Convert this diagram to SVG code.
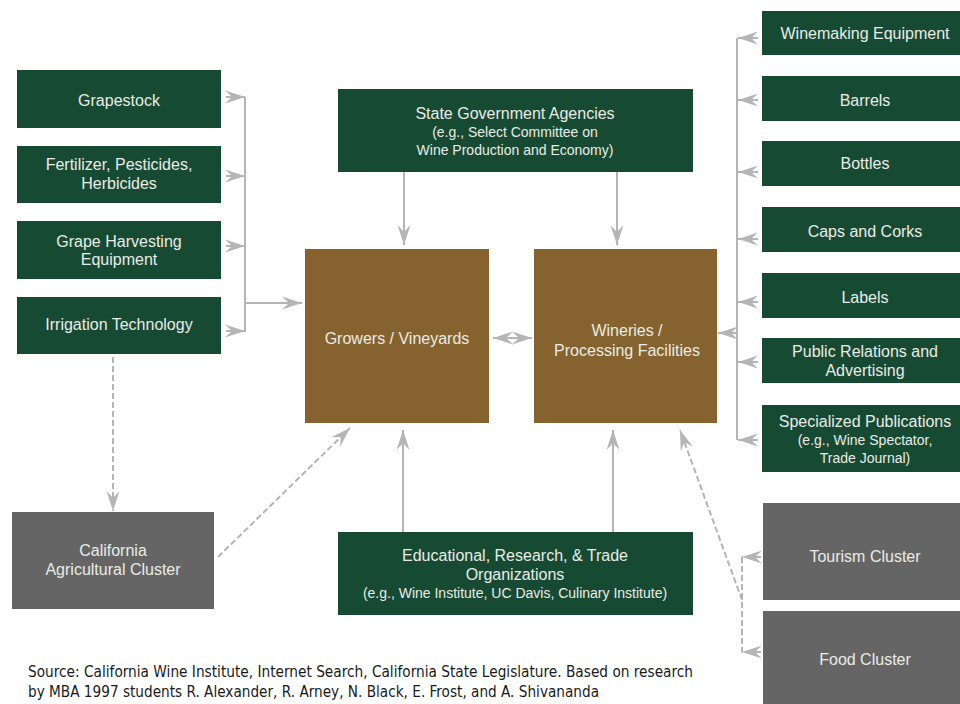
<svg xmlns="http://www.w3.org/2000/svg" width="960" height="704" viewBox="0 0 960 704">
  <style>
    .g { fill: #174a33; }
    .b { fill: #86632e; }
    .c { fill: #656565; }
    .t { font-family: "Liberation Sans", Arial, sans-serif; font-size: 16px; fill: #e9ece6; text-anchor: middle; }
    .s { font-size: 14px; }
    .ln { stroke: #b5b5b5; stroke-width: 2; fill: none; }
    .d { stroke-dasharray: 6 3; }
    .src { font-family: "Liberation Sans Narrow", "DejaVu Sans Condensed", "Liberation Sans", sans-serif; font-size: 15px; fill: #1a1a1a; }
  </style>
  <defs>
    <marker id="ah" markerUnits="userSpaceOnUse" viewBox="-22 -8 24 16" refX="0" refY="0" markerWidth="24" markerHeight="16" orient="auto">
      <path d="M0,0 L-20,-6.5 L-13,0 L-20,6.5 Z" fill="#b5b5b5"/>
    </marker>
    <marker id="as" markerUnits="userSpaceOnUse" viewBox="-22 -8 24 16" refX="0" refY="0" markerWidth="24" markerHeight="16" orient="auto-start-reverse">
      <path d="M0,0 L-20,-6.5 L-13,0 L-20,6.5 Z" fill="#b5b5b5"/>
    </marker>
  </defs>
  <rect width="960" height="704" fill="#ffffff"/>

  <!-- connectors -->
  <g id="connectors">
    <!-- input suppliers bracket into growers -->
    <line class="ln" x1="245" y1="97" x2="245" y2="332"/>
    <line class="ln" x1="226" y1="97" x2="245" y2="97" marker-end="url(#ah)"/>
    <line class="ln" x1="226" y1="176" x2="245" y2="176" marker-end="url(#ah)"/>
    <line class="ln" x1="226" y1="246" x2="245" y2="246" marker-end="url(#ah)"/>
    <line class="ln" x1="226" y1="331" x2="245" y2="331" marker-end="url(#ah)"/>
    <line class="ln" x1="245" y1="303" x2="302" y2="303" marker-end="url(#ah)"/>

    <!-- state government down -->
    <line class="ln" x1="404" y1="172" x2="404" y2="245" marker-end="url(#ah)"/>
    <line class="ln" x1="617" y1="172" x2="617" y2="245" marker-end="url(#ah)"/>

    <!-- growers <-> wineries -->
    <line class="ln" x1="493" y1="338" x2="532" y2="338" marker-start="url(#as)" marker-end="url(#ah)"/>

    <!-- education up -->
    <line class="ln" x1="403" y1="532" x2="403" y2="430" marker-end="url(#ah)"/>
    <line class="ln" x1="613" y1="532" x2="613" y2="430" marker-end="url(#ah)"/>

    <!-- winery suppliers bracket -->
    <line class="ln" x1="737" y1="38" x2="737" y2="440"/>
    <line class="ln" x1="758" y1="38" x2="738" y2="38" marker-end="url(#ah)"/>
    <line class="ln" x1="758" y1="100" x2="738" y2="100" marker-end="url(#ah)"/>
    <line class="ln" x1="758" y1="172" x2="738" y2="172" marker-end="url(#ah)"/>
    <line class="ln" x1="758" y1="239" x2="738" y2="239" marker-end="url(#ah)"/>
    <line class="ln" x1="758" y1="302" x2="738" y2="302" marker-end="url(#ah)"/>
    <line class="ln" x1="758" y1="362" x2="738" y2="362" marker-end="url(#ah)"/>
    <line class="ln" x1="758" y1="440" x2="738" y2="440" marker-end="url(#ah)"/>
    <line class="ln" x1="737" y1="333" x2="718" y2="333" marker-end="url(#ah)"/>

    <!-- related clusters (dashed) -->
    <line class="ln d" x1="113" y1="357" x2="113" y2="511" marker-end="url(#ah)"/>
    <line class="ln d" x1="218" y1="557" x2="350" y2="428" marker-end="url(#ah)"/>
    <line class="ln d" x1="742" y1="557" x2="742" y2="652"/>
    <line class="ln d" x1="761" y1="557" x2="742" y2="557" marker-end="url(#ah)"/>
    <line class="ln d" x1="761" y1="652" x2="742" y2="652" marker-end="url(#ah)"/>
    <line class="ln d" x1="742" y1="600" x2="680" y2="430" marker-end="url(#ah)"/>
  </g>

  <!-- left: grape growing inputs -->
  <g id="grapestock">
    <rect class="g" x="17" y="70" width="204" height="58"/>
    <text class="t" x="119" y="106">Grapestock</text>
  </g>
  <g id="fertilizer">
    <rect class="g" x="17" y="146" width="204" height="57"/>
    <text class="t" x="119" y="170">Fertilizer, Pesticides,</text>
    <text class="t" x="119" y="189">Herbicides</text>
  </g>
  <g id="harvesting">
    <rect class="g" x="17" y="221" width="204" height="58"/>
    <text class="t" x="119" y="247">Grape Harvesting</text>
    <text class="t" x="119" y="265">Equipment</text>
  </g>
  <g id="irrigation">
    <rect class="g" x="17" y="297" width="204" height="57"/>
    <text class="t" x="119" y="330">Irrigation Technology</text>
  </g>

  <!-- centre -->
  <g id="state-government">
    <rect class="g" x="338" y="89" width="355" height="83"/>
    <text class="t" x="515" y="119">State Government Agencies</text>
    <text class="t s" x="515" y="137">(e.g., Select Committee on</text>
    <text class="t s" x="515" y="155">Wine Production and Economy)</text>
  </g>
  <g id="growers">
    <rect class="b" x="305" y="249" width="184" height="174"/>
    <text class="t" x="397" y="344">Growers / Vineyards</text>
  </g>
  <g id="wineries">
    <rect class="b" x="534" y="249" width="183" height="174"/>
    <text class="t" x="627" y="336">Wineries /</text>
    <text class="t" x="627" y="356">Processing Facilities</text>
  </g>
  <g id="education">
    <rect class="g" x="338" y="532" width="355" height="83"/>
    <text class="t" x="515" y="561">Educational, Research, &amp; Trade</text>
    <text class="t" x="515" y="580">Organizations</text>
    <text class="t s" x="515" y="598">(e.g., Wine Institute, UC Davis, Culinary Institute)</text>
  </g>
  <g id="agricultural-cluster">
    <rect class="c" x="12" y="512" width="202" height="97"/>
    <text class="t" x="113" y="556">California</text>
    <text class="t" x="113" y="575">Agricultural Cluster</text>
  </g>

  <!-- right: winery inputs -->
  <g id="winemaking-equipment">
    <rect class="g" x="762" y="11" width="206" height="44"/>
    <text class="t" x="865" y="39">Winemaking Equipment</text>
  </g>
  <g id="barrels">
    <rect class="g" x="762" y="76" width="206" height="45"/>
    <text class="t" x="865" y="106">Barrels</text>
  </g>
  <g id="bottles">
    <rect class="g" x="762" y="141" width="206" height="45"/>
    <text class="t" x="865" y="169">Bottles</text>
  </g>
  <g id="caps-corks">
    <rect class="g" x="762" y="207" width="206" height="45"/>
    <text class="t" x="865" y="237">Caps and Corks</text>
  </g>
  <g id="labels">
    <rect class="g" x="762" y="273" width="206" height="45"/>
    <text class="t" x="865" y="303">Labels</text>
  </g>
  <g id="public-relations">
    <rect class="g" x="762" y="338" width="206" height="45"/>
    <text class="t" x="865" y="357">Public Relations and</text>
    <text class="t" x="865" y="376">Advertising</text>
  </g>
  <g id="publications">
    <rect class="g" x="762" y="405" width="206" height="67"/>
    <text class="t" x="865" y="427">Specialized Publications</text>
    <text class="t s" x="865" y="445">(e.g., Wine Spectator,</text>
    <text class="t s" x="865" y="463">Trade Journal)</text>
  </g>
  <g id="tourism-cluster">
    <rect class="c" x="763" y="503" width="205" height="97"/>
    <text class="t" x="865" y="562">Tourism Cluster</text>
  </g>
  <g id="food-cluster">
    <rect class="c" x="763" y="611" width="205" height="100"/>
    <text class="t" x="865" y="665">Food Cluster</text>
  </g>

  <!-- source note -->
  <g id="source">
    <text class="src" x="28" y="677" textLength="665" lengthAdjust="spacingAndGlyphs">Source: California Wine Institute, Internet Search, California State Legislature. Based on research</text>
    <text class="src" x="28" y="697" textLength="571" lengthAdjust="spacingAndGlyphs">by MBA 1997 students R. Alexander, R. Arney, N. Black, E. Frost, and A. Shivananda</text>
  </g>
</svg>
